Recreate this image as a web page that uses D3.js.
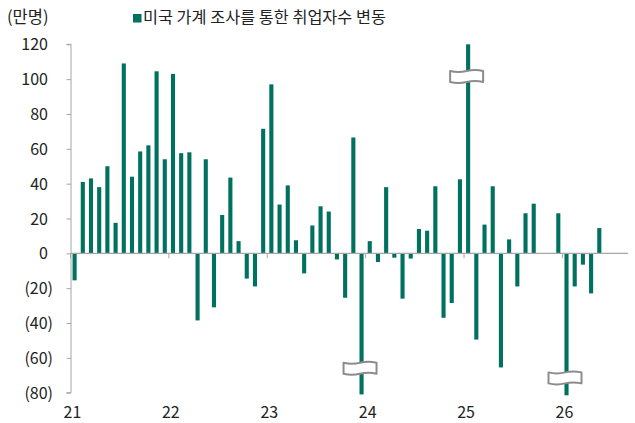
<!DOCTYPE html>
<html><head><meta charset="utf-8">
<script src="https://cdn.jsdelivr.net/npm/d3@7/dist/d3.min.js"></script>
<style>
body{margin:0;background:#fff;}
text{font-family:"Noto Sans CJK KR","Noto Sans",sans-serif;}
</style></head>
<body><svg id="c" width="635" height="423"></svg>
<script>
// categories: months Jan 2021 .. Aug 2026
const months = [];
for (let y = 2021; y <= 2026; y++) for (let m = 1; m <= 12; m++) { if (y === 2026 && m > 8) break; months.push(y + "-" + String(m).padStart(2, "0")); }
// 미국 가계 조사를 통한 취업자수 변동 (만명), null = no data
const values = [
  -15.5, 41, 43, 38, 50, 17.5, 109, 44, 58.5, 62, 104.5, 54,
  103, 57.5, 58, -38.5, 54, -31, 22, 43.5, 7, -14.5, -19, 71.5,
  97, 28, 39, 7.5, -11.5, 16, 27, 24, -3.5, -25.5, 66.5, -81,
  7, -5, 38, -2.5, -26, -3, 14, 13, 38.5, -37, -28.5, 42.5,
  120, -49.5, 16.5, 38.5, -65.5, 8, -19, 23, 28.5, null, null, 23,
  -81.5, -19, -6.5, -23, 14.5, null, null, null
];
const yTicks = [120, 100, 80, 60, 40, 20, 0, -20, -40, -60, -80];
const yearTicks = ["2021-01", "2022-01", "2023-01", "2024-01", "2025-01", "2026-01"];
const yearLabels = ["21", "22", "23", "24", "25", "26"];
const breakMonths = ["2023-12", "2025-01", "2026-01"];
const breakAt = [-66, 101.5, -71.5];
const seriesName = "미국 가계 조사를 통한 취업자수 변동";
const unitLabel = "(만명)";

const svg = d3.select("#c");
const color = "#00705f";
const axisColor = "#a6a6a6";

const x = d3.scaleBand().domain(months).range([70.5, 628]).paddingInner(0.5).paddingOuter(0.25);
const y = d3.scaleLinear().domain([-80, 120]).range([392.7, 44.3]);

// y axis
const yAxis = svg.append("g").attr("transform", "translate(71,0)")
  .call(d3.axisLeft(y).tickValues(yTicks).tickSize(4.5).tickFormat(d => d < 0 ? "(" + (-d) + ")" : d));
yAxis.select(".domain").attr("stroke", axisColor).attr("d", `M-4.5,${y(120)}H0V${y(-80)}H-4.5`);
yAxis.selectAll(".tick line").attr("stroke", axisColor);
yAxis.selectAll(".tick text").attr("font-size", 16).attr("fill", "#222")
  .attr("x", d => d < 0 ? -18 : -23).attr("dy", "0.35em")
  .attr("font-family", '"Noto Sans CJK KR",sans-serif');

// bars
svg.append("g").selectAll("rect").data(months.map((m, i) => ({ m, v: values[i] })).filter(d => d.v !== null))
  .join("rect")
  .attr("x", d => x(d.m))
  .attr("width", x.bandwidth())
  .attr("y", d => y(Math.max(0, d.v)))
  .attr("height", d => Math.abs(y(d.v) - y(0)))
  .attr("fill", color);

// x axis line at zero
const bandStart = m => x(m) - x.step() * x.paddingInner() / 2;
svg.append("line").attr("x1", 71).attr("x2", 628).attr("y1", y(0)).attr("y2", y(0))
  .attr("stroke", axisColor).attr("stroke-width", 1.2);
svg.append("g").selectAll("line").data(yearTicks).join("line")
  .attr("x1", d => bandStart(d)).attr("x2", d => bandStart(d))
  .attr("y1", y(0)).attr("y2", y(0) + 5).attr("stroke", axisColor);
svg.append("g").selectAll("text").data(yearTicks).join("text")
  .attr("x", (d, i) => bandStart(d) + 2).attr("y", 418)
  .attr("text-anchor", "middle").attr("font-size", 16).attr("fill", "#222")
  .text((d, i) => yearLabels[i]);

// break markers
const bw = 33, bh = 11;
svg.append("g").selectAll("path").data(breakMonths.map((m, i) => ({ m, v: breakAt[i] })))
  .join("path")
  .attr("d", d => {
    const cx = x(d.m) + x.bandwidth() / 2 - 1.5, cy = y(d.v);
    const x0 = cx - bw / 2, y0 = cy - bh / 2;
    return `M${x0},${y0} C${x0 + bw * 0.5},${y0 + 4} ${x0 + bw * 0.5},${y0 - 4} ${x0 + bw},${y0}
            L${x0 + bw},${y0 + bh} C${x0 + bw * 0.5},${y0 + bh - 4} ${x0 + bw * 0.5},${y0 + bh + 4} ${x0},${y0 + bh} Z`;
  })
  .attr("fill", "#fff").attr("stroke", "#8c8c8c").attr("stroke-width", 2).attr("stroke-linejoin", "round");

// unit label and legend
svg.append("text").attr("x", 7).attr("y", 23).attr("font-size", 16.5).attr("fill", "#222").text(unitLabel);
svg.append("rect").attr("x", 133).attr("y", 14).attr("width", 8.5).attr("height", 8.5).attr("fill", color);
svg.append("text").attr("x", 143).attr("y", 23).attr("font-size", 16.3).attr("fill", "#222").text(seriesName);
</script></body></html>
